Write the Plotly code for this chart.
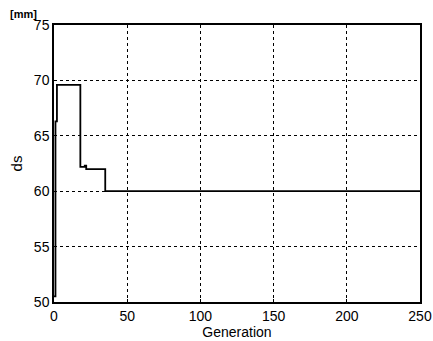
import plotly.graph_objects as go

generation = [0, 1, 2, 18, 21, 22, 35, 250]
ds_values = [50.5, 66.3, 69.6, 62.2, 62.3, 62.0, 60.0, 60.0]
x_ticks = [0, 50, 100, 150, 200, 250]
y_ticks = [50, 55, 60, 65, 70, 75]

fig = go.Figure()
fig.add_trace(go.Scatter(
    x=generation, y=ds_values, mode="lines",
    line=dict(color="black", width=1.8, shape="hv"),
    showlegend=False, hoverinfo="skip",
))

font = dict(family="Liberation Sans, Arial, sans-serif", size=14, color="black")
fig.update_layout(
    width=433, height=341,
    margin=dict(l=54, r=13, t=25, b=39),
    paper_bgcolor="white", plot_bgcolor="white",
    font=font,
    xaxis=dict(
        range=[0, 250], tickvals=x_ticks, ticktext=[str(v) for v in x_ticks],
        showgrid=True, gridcolor="black", griddash="dot", gridwidth=1,
        showline=True, linecolor="black", linewidth=1.5, mirror=True,
        ticks="inside", ticklen=3, tickcolor="black",
        zeroline=False, automargin=False,
        title=dict(text="Generation", standoff=0, font=font),
    ),
    yaxis=dict(
        range=[50, 75], tickvals=y_ticks, ticktext=[str(v) for v in y_ticks],
        showgrid=True, gridcolor="black", griddash="dot", gridwidth=1,
        showline=True, linecolor="black", linewidth=1.5, mirror=True,
        ticks="inside", ticklen=3, tickcolor="black",
        zeroline=False, automargin=False,
        title=dict(text="ds", standoff=8, font=dict(family="Liberation Sans, Arial, sans-serif", size=15, color="black")),
    ),
    annotations=[dict(text="<b>[mm]</b>", x=-46/366, xanchor="left",
                      y=1 + 11/277, yanchor="middle", xref="paper", yref="paper",
                      showarrow=False,
                      font=dict(family="Liberation Sans, Arial, sans-serif", size=11, color="black"))],
)

fig.write_html("out.html")
